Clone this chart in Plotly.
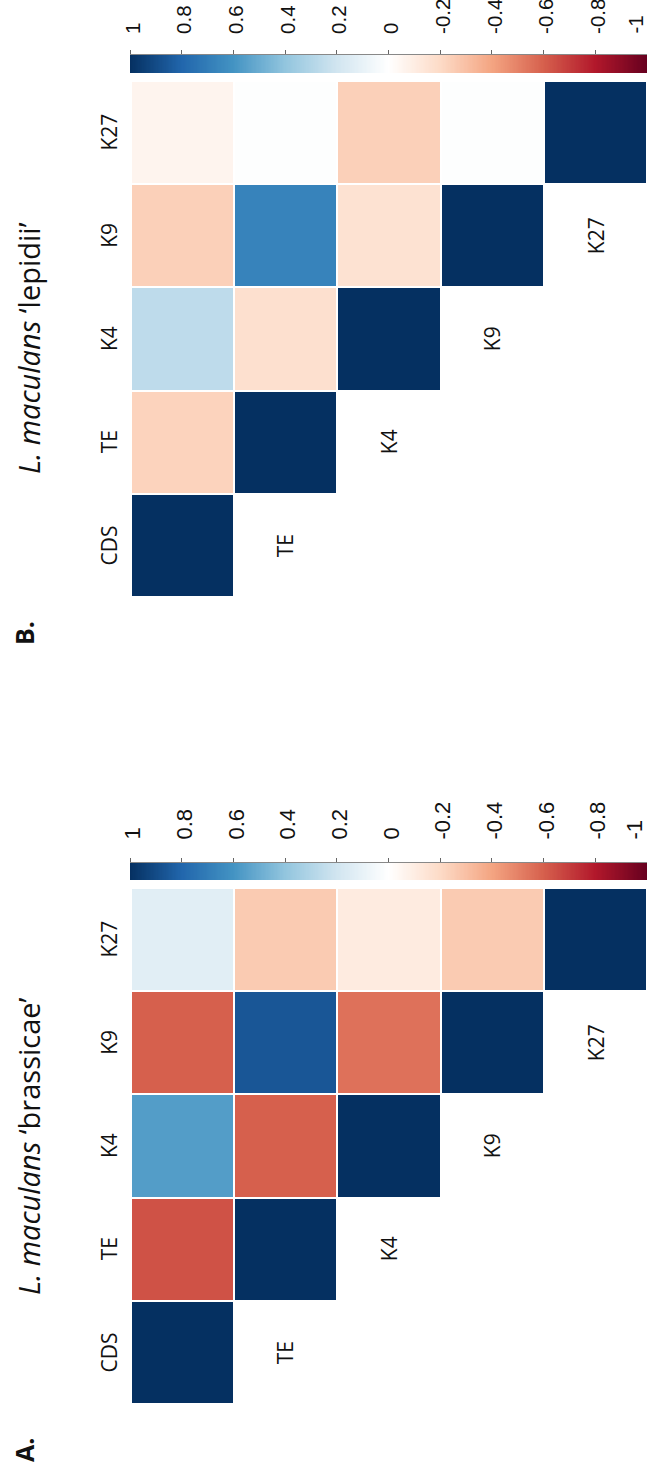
import numpy as np
import plotly.graph_objects as go

# ---------------- data ----------------
labels = ["CDS", "TE", "K4", "K9", "K27"]

# upper-triangle correlation rows (row i lists values for columns i..4)
brassicae_rows = [
    [1.00, -0.64, 0.56, -0.60, 0.13],
    [1.00, -0.60, 0.86, -0.26],
    [1.00, -0.55, -0.11],
    [1.00, -0.26],
    [1.00],
]
lepidii_rows = [
    [1.00, -0.23, 0.26, -0.24, -0.06],
    [1.00, -0.17, 0.67, 0.01],
    [1.00, -0.16, -0.24],
    [1.00, 0.01],
    [1.00],
]

cbar_ticks = [1, 0.8, 0.6, 0.4, 0.2, 0, -0.2, -0.4, -0.6, -0.8, -1]
cbar_ticktext = ["1", "0.8", "0.6", "0.4", "0.2", "0", "-0.2", "-0.4", "-0.6", "-0.8", "-1"]

titles = ["<i>L. maculans</i> \u2018brassicae\u2019", "<i>L. maculans</i> \u2018lepidii\u2019"]
panel_letters = ["A.", "B."]

# ---------------- styling ----------------
W, H = 647, 1481
colorscale = [
    [0.0, "#67001F"], [0.1, "#B2182B"], [0.2, "#D6604D"], [0.3, "#F4A582"],
    [0.4, "#FDDBC7"], [0.5, "#FFFFFF"], [0.6, "#D1E5F0"], [0.7, "#92C5DE"],
    [0.8, "#4393C3"], [0.9, "#2166AC"], [1.0, "#053061"],
]
LABEL_FONT = dict(family="Open Sans", size=21, color="#111")


def py(pix):
    """pixel y (from top) -> paper y"""
    return (H - pix) / H


def px(pix):
    return pix / W


def to_matrix(rows):
    n = len(labels)
    z = [[None] * n for _ in range(n)]
    for i, row in enumerate(rows):
        for k, v in enumerate(row):
            j = i + k
            z[j][i] = v  # y = column (j), x = row (i)
    return z


# panel geometry (pixels): cells top / bottom, colorbar top / bottom
panels = [
    dict(rows=brassicae_rows, cell_top=888, cell_bot=1404, cb_top=863, cb_bot=880,
         title_start=1297, letter_y=1450, tick_size=22, standoff=14),
    dict(rows=lepidii_rows, cell_top=81, cell_bot=597, cb_top=55, cb_bot=73,
         title_start=476, letter_y=633, tick_size=20.5, standoff=12),
]

fig = go.Figure()
layout = dict(width=W, height=H,
              margin=dict(l=0, r=0, t=0, b=0, pad=0, autoexpand=False),
              paper_bgcolor="white", plot_bgcolor="white", showlegend=False)
annotations = []
cbar_x = np.linspace(-1, 1, 401)

for p, panel in enumerate(panels):
    ax_i = 2 * p + 1
    cb_i = 2 * p + 2
    xa = "x" if ax_i == 1 else f"x{ax_i}"
    ya = "y" if ax_i == 1 else f"y{ax_i}"
    xc = f"x{cb_i}"
    yc = f"y{cb_i}"
    tick_font = dict(family="Liberation Sans", size=panel["tick_size"], color="#111")

    fig.add_trace(go.Heatmap(
        z=to_matrix(panel["rows"]), x=list(range(5)), y=list(range(5)),
        zmin=-1, zmax=1, colorscale=colorscale, showscale=False,
        xgap=2, ygap=2, xaxis=xa, yaxis=ya, hoverongaps=False,
    ))
    layout["xaxis" if ax_i == 1 else f"xaxis{ax_i}"] = dict(
        domain=[px(131), 1.0], range=[-0.5, 4.5], showgrid=False, zeroline=False,
        showticklabels=False, ticks="", anchor=ya, automargin=False)
    layout["yaxis" if ax_i == 1 else f"yaxis{ax_i}"] = dict(
        domain=[py(panel["cell_bot"]), py(panel["cell_top"])], range=[-0.5, 4.5],
        showgrid=False, zeroline=False, showticklabels=False, ticks="", anchor=xa,
        automargin=False)

    # colour bar strip
    fig.add_trace(go.Heatmap(
        z=[cbar_x], x=cbar_x, y=[0], zmin=-1, zmax=1, colorscale=colorscale,
        showscale=False, xaxis=xc, yaxis=yc, hoverinfo="skip",
    ))
    layout[f"xaxis{cb_i}"] = dict(
        domain=[px(130), 1.0], range=[1, -1], side="top", showgrid=False, zeroline=False,
        tickvals=cbar_ticks, ticktext=cbar_ticktext[:-1] + [""], tickangle=-90,
        ticks="outside", ticklen=4, tickcolor="#666", tickwidth=1, tickfont=tick_font,
        ticklabelstandoff=panel["standoff"], ticklabelshift=-3, ticklabeloverflow="allow",
        showline=True, linecolor="#888", linewidth=1, anchor=yc, automargin=False)
    layout[f"yaxis{cb_i}"] = dict(
        domain=[py(panel["cb_bot"]), py(panel["cb_top"])], range=[-0.5, 0.5],
        showgrid=False, zeroline=False, showticklabels=False, ticks="", anchor=xc,
        automargin=False)
    # last colour-bar label, kept inside the page like the original
    annotations.append(dict(text=cbar_ticktext[-1], xref=xc, yref="paper",
                            x=cbar_ticks[-1],
                            y=py(panel["cb_top"] - 8 - panel["standoff"]),
                            textangle=-90, showarrow=False, font=tick_font,
                            borderpad=0, xanchor="right", yanchor="bottom"))

    # column labels (left side)
    for j, lab in enumerate(labels):
        annotations.append(dict(text=lab, xref="paper", yref=ya, x=px(109), y=j,
                                textangle=-90, showarrow=False, font=LABEL_FONT,
                                xanchor="center", yanchor="middle"))
    # row labels (below the diagonal)
    for i, lab in enumerate(labels):
        annotations.append(dict(text=lab, xref=xa, yref=ya, x=i, y=i - 1,
                                textangle=-90, showarrow=False, font=LABEL_FONT,
                                xanchor="center", yanchor="middle"))
    # title
    annotations.append(dict(text=titles[p], xref="paper", yref="paper", x=px(28),
                            y=py(panel["title_start"]), textangle=-90, showarrow=False,
                            font=dict(family="Open Sans", size=29, color="#111"),
                            xanchor="center", yanchor="bottom"))
    # panel letter
    annotations.append(dict(text=f"<b>{panel_letters[p]}</b>", xref="paper", yref="paper",
                            x=px(24), y=py(panel["letter_y"]), textangle=-90,
                            showarrow=False,
                            font=dict(family="Open Sans", size=25, color="#111"),
                            xanchor="center", yanchor="middle"))

layout["annotations"] = annotations
fig.update_layout(**layout)
fig.write_html(
    "out.html",
    config={"displayModeBar": False},
    post_script="document.body.style.margin='0';document.body.style.overflow='hidden';",
)
